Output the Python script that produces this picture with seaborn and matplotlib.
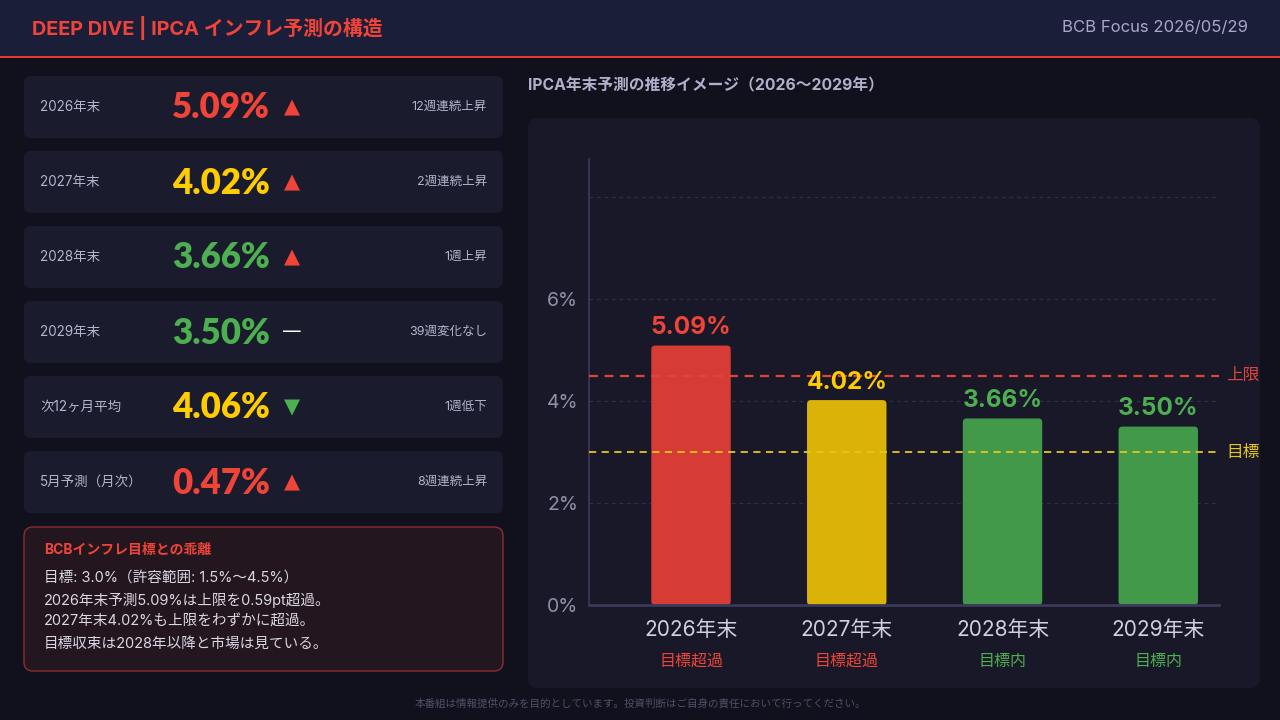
import matplotlib
matplotlib.use("Agg")
import matplotlib.pyplot as plt
import seaborn as sns
import pandas as pd
from matplotlib.patches import FancyBboxPatch, Rectangle
from matplotlib.transforms import Bbox

# data
years = ['2026年末', '2027年末', '2028年末', '2029年末']
forecast = [5.09, 4.02, 3.66, 3.50]
status = ['目標超過', '目標超過', '目標内', '目標内']
upper_limit = 4.5
target = 3.0

card_labels = ['2026年末', '2027年末', '2028年末', '2029年末', '次12ヶ月平均', '5月予測（月次）']
card_values = [5.09, 4.02, 3.66, 3.50, 4.06, 0.47]
card_trend = ['up', 'up', 'up', 'flat', 'down', 'up']
card_notes = ['12週連続上昇', '2週連続上昇', '1週上昇', '39週変化なし', '1週低下', '8週連続上昇']
card_level = ['high', 'mid', 'low', 'low', 'mid', 'high']

note_title = 'BCBインフレ目標との乖離'
note_lines = ['目標: 3.0%（許容範囲: 1.5%〜4.5%）',
              '2026年末予測5.09%は上限を0.59pt超過。',
              '2027年末4.02%も上限をわずかに超過。',
              '目標収束は2028年以降と市場は見ている。']

# colours
BG = '#11111d'
PANEL = '#181828'
CARD = '#1b1b2e'
RED = '#f04438'
YEL = '#ffcc00'
GRN = '#4caf50'
level_col = {'high': RED, 'mid': YEL, 'low': GRN}
bar_cols = ['#d63c35', '#dbb308', '#43994a', '#43994a']
bar_label_cols = [RED, YEL, GRN, GRN]

sns.set_theme(style='dark')
plt.rcParams['font.family'] = ['Inter', 'Noto Sans CJK JP', 'DejaVu Sans']

fig = plt.figure(figsize=(12.8, 7.2), dpi=100, facecolor=BG)

# overlay axes in pixel coordinates for panels and text
bg = fig.add_axes([0, 0, 1, 1], zorder=0)
bg.set_xlim(0, 1280)
bg.set_ylim(720, 0)
bg.axis('off')
bg.set_facecolor(BG)

# header
bg.add_patch(Rectangle((0, 0), 1280, 56, color='#1b1e38', lw=0))
bg.add_patch(Rectangle((0, 56), 1280, 2, color='#e8392f', lw=0))
bg.text(32, 28, 'DEEP DIVE | IPCA インフレ予測の構造', color=RED, fontsize=14.3,
        fontweight='bold', va='center', ha='left')
bg.text(1248, 28, 'BCB Focus 2026/05/29', color='#a8a8c8', fontsize=12,
        va='center', ha='right')

# cards
for i in range(len(card_labels)):
    top = 76 + i * 75
    bg.add_patch(FancyBboxPatch((24, top), 479, 62,
                                boxstyle='round,pad=0,rounding_size=7',
                                fc=CARD, ec='none'))
    cy = top + 31
    bg.text(40, cy, card_labels[i], color='#b4b4cc', fontsize=9.7, va='center')
    bg.text(172, cy + 1, f'{card_values[i]:.2f}%', color=level_col[card_level[i]],
            fontsize=25, fontweight='heavy', va='center', family=['Lato', 'DejaVu Sans'])
    if card_trend[i] == 'up':
        bg.text(292, cy, '▲', color=RED, fontsize=15, va='center', ha='center',
                family=['DejaVu Sans'])
    elif card_trend[i] == 'down':
        bg.text(292, cy, '▼', color=GRN, fontsize=15, va='center', ha='center',
                family=['DejaVu Sans'])
    else:
        bg.text(292, cy, '—', color='white', fontsize=14, va='center', ha='center',
                family=['DejaVu Sans'])
    bg.text(487, cy, card_notes[i], color='#b4b4cc', fontsize=9, va='center', ha='right')

# note box
bg.add_patch(FancyBboxPatch((24, 527), 479, 144,
                            boxstyle='round,pad=0,rounding_size=9',
                            fc='#23161f', ec='#8a2e2e', lw=1))
bg.text(44, 550, note_title, color=RED, fontsize=10, fontweight='bold', va='center')
for j, line in enumerate(note_lines):
    bg.text(44, 578 + j * 22, line, color='#d8d8e4', fontsize=10.5, va='center')

# chart panel
bg.text(528, 86, 'IPCA年末予測の推移イメージ（2026〜2029年）', color='#b0b0cc',
        fontsize=11.3, fontweight='bold', va='center')
panel = FancyBboxPatch((528, 118), 732, 570, boxstyle='round,pad=0,rounding_size=10',
                       fc=PANEL, ec='none')
bg.add_patch(panel)

# footer
bg.text(640, 703, '本番組は情報提供のみを目的としています。投資判断はご自身の責任において行ってください。',
        color='#505068', fontsize=7.6, ha='center', va='center')

# bar chart
ax = fig.add_axes([589 / 1280, 115 / 720, 630 / 1280, 446 / 720], zorder=1)
ax.set_facecolor('none')
df = pd.DataFrame({'year': years, 'value': forecast})
sns.barplot(data=df, x='year', y='value', hue='year', palette=bar_cols,
            width=0.51, legend=False, ax=ax, saturation=1)
ax.set_xlim(-0.655, 3.39)
ax.set_ylim(0, 8.75)
ax.set_yticks([0, 2, 4, 6, 8])
ax.set_yticklabels(['0%', '2%', '4%', '6%', ''])
ax.tick_params(axis='y', colors='#9090a8', labelsize=14, length=0, pad=8)
ax.tick_params(axis='x', length=0, labelbottom=False)
ax.set_xlabel('')
ax.set_ylabel('')
ax.grid(False)
for yv in [2, 4, 6, 8]:
    ax.axhline(yv, color='#2e2e48', lw=0.9, ls=(0, (3, 3)), zorder=0)
for s in ['top', 'right']:
    ax.spines[s].set_visible(False)
ax.spines['left'].set_color('#3a3a5a')
ax.spines['bottom'].set_color('#3a3a5a')
ax.spines['left'].set_linewidth(1.2)
ax.spines['bottom'].set_linewidth(2)

# rounded bars
for p in list(ax.patches):
    x0, w, h = p.get_x(), p.get_width(), p.get_height()
    fc = p.get_facecolor()
    p.set_visible(False)
    ax.add_patch(FancyBboxPatch((x0, 0), w, h, boxstyle='round,pad=0,rounding_size=0.025',
                                mutation_aspect=3.05, fc=fc, ec='none', zorder=2))

for i, v in enumerate(forecast):
    ax.text(i, v + 0.12, f'{v:.2f}%', color=bar_label_cols[i],
            fontsize=17.5, fontweight='bold', ha='center', va='bottom', zorder=4)
    ax.text(i, -0.5, years[i], color='#d0d0e0', fontsize=15, ha='center', va='center',
            clip_on=False)
    ax.text(i, -1.1, status[i], color=RED if status[i] == '目標超過' else GRN,
            fontsize=11.5, ha='center', va='center', clip_on=False)

ax.axhline(upper_limit, color='#e0443a', lw=1.6, ls=(0, (4, 3)), zorder=3)
ax.axhline(target, color='#e6c619', lw=1.3, ls=(0, (4, 3)), zorder=3)
t1 = ax.text(1.012, upper_limit, f'上限{upper_limit}%', color='#e0443a', fontsize=12,
             va='center', ha='left', transform=ax.get_yaxis_transform())
t2 = ax.text(1.012, target, f'目標{target}%', color='#e6c619', fontsize=12,
             va='center', ha='left', transform=ax.get_yaxis_transform())
# the reference cuts these labels at the panel's right edge
edge = Bbox.from_extents(0, 0, 1260, 720)
for t in (t1, t2):
    t.set_clip_on(True)
    t.set_clip_box(edge)

fig.savefig('out.png', dpi=100, facecolor=BG)
